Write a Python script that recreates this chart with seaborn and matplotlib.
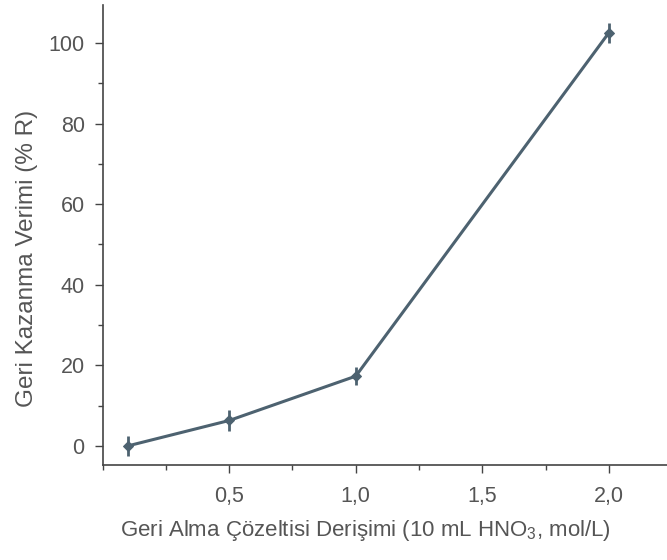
import matplotlib
matplotlib.use("Agg")
import matplotlib.pyplot as plt
from matplotlib.ticker import MultipleLocator, FuncFormatter
import numpy as np
import pandas as pd
import seaborn as sns

# Values
concentration = [0.1, 0.5, 1.0, 2.0]
recovery = [0.0, 6.3, 17.3, 102.5]
recovery_err = [2.5, 2.5, 2.2, 2.5]

sns.set_style("ticks")
plt.rcParams['font.family'] = ['Liberation Sans', 'DejaVu Sans']
plt.rcParams['mathtext.fontset'] = 'custom'
plt.rcParams['mathtext.rm'] = 'Liberation Sans'
plt.rcParams['mathtext.it'] = 'Liberation Sans'

text_col = '#555555'
line_col = '#4d6270'

df = pd.DataFrame({'conc': concentration, 'rec': recovery, 'err': recovery_err})

fig = plt.figure(figsize=(6.67, 5.6), dpi=100)
ax = fig.add_axes([0.154, 0.170, 0.846, 0.821])

sns.lineplot(data=df, x='conc', y='rec', ax=ax, color=line_col, linewidth=2.2,
             marker='D', markersize=5, markeredgecolor=line_col, markerfacecolor=line_col)
ax.errorbar(df['conc'], df['rec'], yerr=df['err'], fmt='none', ecolor=line_col,
            elinewidth=2.0, capsize=0)

ax.set_xlim(0, 2.23)
ax.set_ylim(-4.7, 109.4)

ax.xaxis.set_minor_locator(MultipleLocator(0.25))
ax.yaxis.set_major_locator(MultipleLocator(20))
ax.yaxis.set_minor_locator(MultipleLocator(10))
ax.set_xticks([0.5, 1.0, 1.5, 2.0])
ax.xaxis.set_major_formatter(FuncFormatter(lambda v, p: f"{v:.1f}".replace('.', ',')))

ax.tick_params(axis='both', which='major', length=6, width=1, colors='#444444',
               labelcolor=text_col, labelsize=15.5, direction='out')
ax.tick_params(axis='x', which='major', pad=9)
ax.tick_params(axis='y', which='major', pad=7)
ax.tick_params(axis='both', which='minor', length=3.5, width=1, colors='#444444',
               direction='out')

sns.despine(ax=ax)
for s in ['left', 'bottom']:
    ax.spines[s].set_color('#444444')
    ax.spines[s].set_linewidth(1.2)

ax.set_xlabel('Geri Alma Çözeltisi Derişimi (10 mL HNO$_3$, mol/L)', fontsize=16,
              color=text_col, va='center')
ax.set_ylabel('Geri Kazanma Verimi (% R)', fontsize=17.5, color=text_col, va='center')
ax.xaxis.set_label_coords(0.465, -0.143)
ax.yaxis.set_label_coords(-0.135, 0.448)

fig.savefig('out.png', dpi=100)
